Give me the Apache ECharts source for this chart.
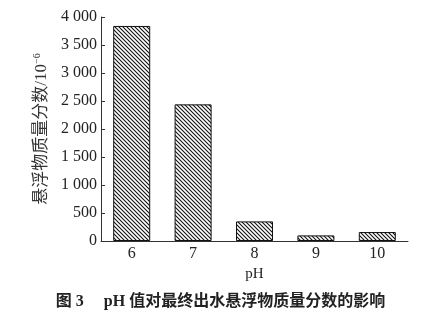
<!DOCTYPE html>
<html><head><meta charset="utf-8">
<script src="https://cdn.jsdelivr.net/npm/echarts@6/dist/echarts.min.js"></script>
<style>html,body{margin:0;padding:0;background:#fff}#c{width:441px;height:318px}</style>
</head><body><div id="c"></div>
<script>
var categories = ['6', '7', '8', '9', '10'];
var values = [3840, 2440, 350, 100, 160];
var yTicks = [0, 500, 1000, 1500, 2000, 2500, 3000, 3500, 4000];

function hatch() {
  var s = 4, c = document.createElement('canvas');
  c.width = s; c.height = s;
  var g = c.getContext('2d');
  g.fillStyle = '#fff'; g.fillRect(0, 0, s, s);
  g.strokeStyle = '#111'; g.lineWidth = 1.1;
  g.beginPath();
  g.moveTo(-1, -1); g.lineTo(s + 1, s + 1);
  g.moveTo(-1, s - 1); g.lineTo(1, s + 1);
  g.moveTo(s - 1, -1); g.lineTo(s + 1, 1);
  g.stroke();
  return c;
}
var serif = '"Liberation Serif","Times New Roman",serif';
var cjk = '"Liberation Serif","Noto Sans CJK SC",serif';
var chart = echarts.init(document.getElementById('c'), null, {renderer: 'canvas'});
chart.setOption({
  animation: false,
  backgroundColor: '#fff',
  grid: {left: 101, right: 33, top: 17, bottom: 77},
  xAxis: {
    type: 'category', data: categories,
    name: 'pH', nameLocation: 'middle', nameGap: 25,
    nameTextStyle: {fontFamily: serif, fontSize: 15, color: '#222'},
    axisLine: {lineStyle: {color: '#333', width: 1}},
    axisTick: {show: false},
    axisLabel: {fontFamily: serif, fontSize: 16, color: '#222', margin: 5}
  },
  yAxis: {
    type: 'value', min: yTicks[0], max: yTicks[yTicks.length - 1], interval: 500,
    name: '{a|悬浮物质量分数/10}{s|−6}', nameLocation: 'middle', nameGap: 45,
    nameTextStyle: {rich: {
      a: {fontFamily: cjk, fontSize: 17, color: '#333'},
      s: {fontFamily: serif, fontSize: 10, color: '#333', verticalAlign: 'top', padding: [0, 0, 9, 0]}
    }},
    axisLine: {show: true, lineStyle: {color: '#333', width: 1}},
    axisTick: {show: true, inside: true, length: 4, lineStyle: {color: '#333'}},
    splitLine: {show: false},
    axisLabel: {fontFamily: serif, fontSize: 16, color: '#222', margin: 4,
      formatter: function (v) { var s = String(v); return s.length > 3 ? s.slice(0, s.length - 3) + ' ' + s.slice(-3) : s; }}
  },
  series: [{
    type: 'bar', data: values, barWidth: 37,
    itemStyle: {color: {image: hatch(), repeat: 'repeat'}, borderColor: '#111', borderWidth: 1}
  }],
  graphic: [{
    type: 'text', left: 'center', top: 294,
    style: {text: '图 3     pH 值对最终出水悬浮物质量分数的影响', font: 'bold 16px ' + cjk, fill: '#222'}
  }]
});
</script></body></html>
